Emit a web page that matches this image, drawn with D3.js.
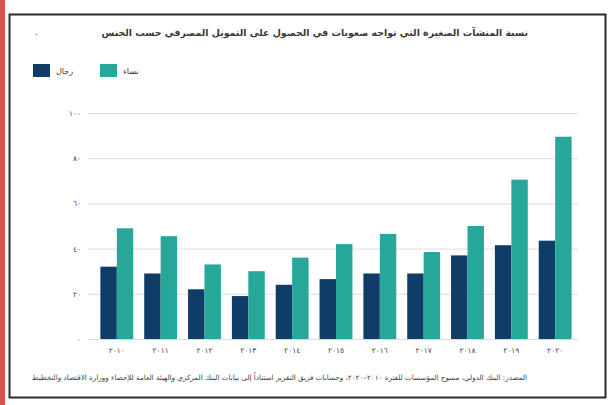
<!DOCTYPE html>
<html lang="ar">
<head>
<meta charset="utf-8">
<script src="https://cdn.jsdelivr.net/npm/d3@7/dist/d3.min.js"></script>
<style>
  html, body { margin: 0; padding: 0; background: #fff; }
  svg { display: block; }
  text { font-family: "DejaVu Sans", "Noto Sans", sans-serif; }
</style>
</head>
<body>
<svg id="chart" width="616" height="405"></svg>
<script>
// Years shown on the horizontal axis
const years = ["٢٠١٠", "٢٠١١", "٢٠١٢", "٢٠١٣", "٢٠١٤", "٢٠١٥", "٢٠١٦", "٢٠١٧", "٢٠١٨", "٢٠١٩", "٢٠٢٠"];
// Series names (legend)
const seriesNames = ["رجال", "نساء"];
// Series values
const menValues   = [32, 29, 22, 19, 24, 26.5, 29, 29, 37, 41.5, 43.5];
const womenValues = [49, 45.5, 33, 30, 36, 42, 46.5, 38.5, 50, 70.5, 89.5];
// Vertical axis ticks
const yTicks = [0, 20, 40, 60, 80, 100];
const yTickLabels = ["٠", "٢٠", "٤٠", "٦٠", "٨٠", "١٠٠"];

const titleText = "نسبة المنشآت الصغيرة التي تواجه صعوبات في الحصول على التمويل المصرفي حسب الجنس";
const sourceText = "المصدر: البنك الدولي، مسوح المؤسسات للفترة ٢٠١٠–٢٠٢٠، وحسابات فريق التقرير استناداً إلى بيانات البنك المركزي والهيئة العامة للإحصاء ووزارة الاقتصاد والتخطيط";

const colors = ["#0f3d68", "#27a79a"];

const svg = d3.select("#chart");

// page edge strip and outer frame
svg.append("rect").attr("x", 0).attr("y", 0).attr("width", 5).attr("height", 405).attr("fill", "#d9534f");
svg.append("rect").attr("x", 9.5).attr("y", 14.5).attr("width", 596).attr("height", 383)
  .attr("fill", "#fff").attr("stroke", "#2b2b2b").attr("stroke-width", 2);

// title
svg.append("text").attr("x", 528).attr("y", 36)
  .attr("text-anchor", "start").attr("direction", "rtl")
  .attr("font-size", 9.4).attr("font-weight", "bold").attr("fill", "#3a3a3a")
  .text(titleText);
svg.append("text").attr("x", 35).attr("y", 38).attr("font-size", 9).attr("fill", "#333").text("·");

// legend
const legend = svg.append("g");
const legendX = [33, 100];
seriesNames.forEach((name, i) => {
  legend.append("rect").attr("x", legendX[i]).attr("y", 64).attr("width", 17).attr("height", 13).attr("fill", colors[i]);
  legend.append("text").attr("x", legendX[i] + 23).attr("y", 74)
    .attr("font-size", 8).attr("fill", "#333").text(name);
});

// scales
const x0 = d3.scaleBand().domain(years).range([96, 576]).paddingInner(0.25).paddingOuter(0.1);
const x1 = d3.scaleBand().domain([0, 1]).range([0, x0.bandwidth()]).padding(0);
const y = d3.scaleLinear().domain([0, 100]).range([339, 113]);

// grid lines
svg.append("g").selectAll("line").data(yTicks).join("line")
  .attr("x1", 88).attr("x2", 578)
  .attr("y1", d => y(d) + 0.5).attr("y2", d => y(d) + 0.5)
  .attr("stroke", "#dcdcdc").attr("stroke-width", 1);

// y axis labels
const yAxis = d3.axisLeft(y).tickValues(yTicks).tickSize(0).tickPadding(0)
  .tickFormat((d, i) => yTickLabels[i]);
svg.append("g").attr("transform", "translate(81,0)").call(yAxis)
  .call(g => g.select(".domain").remove())
  .call(g => g.selectAll("text").attr("font-size", 7.5).attr("fill", "#444")
    .style("font-family", "DejaVu Sans, sans-serif"));

// bars
const rows = years.map((yr, i) => ({ year: yr, vals: [menValues[i], womenValues[i]] }));
const groups = svg.append("g").selectAll("g").data(rows).join("g")
  .attr("transform", d => `translate(${x0(d.year)},0)`);
groups.selectAll("rect").data(d => d.vals.map((v, k) => ({ v, k }))).join("rect")
  .attr("x", d => x1(d.k))
  .attr("y", d => y(d.v))
  .attr("width", x1.bandwidth())
  .attr("height", d => y(0) - y(d.v))
  .attr("fill", d => colors[d.k]);

// x axis labels
const xAxis = d3.axisBottom(x0).tickSize(0).tickPadding(0);
svg.append("g").attr("transform", "translate(0,348)").call(xAxis)
  .call(g => g.select(".domain").remove())
  .call(g => g.selectAll("text").attr("font-size", 7.5).attr("fill", "#444")
    .style("font-family", "DejaVu Sans, sans-serif"));

// source note
svg.append("text").attr("x", 527).attr("y", 380)
  .attr("text-anchor", "start").attr("direction", "rtl")
  .attr("font-size", 7.2).attr("fill", "#444")
  .text(sourceText);
</script>
</body>
</html>
